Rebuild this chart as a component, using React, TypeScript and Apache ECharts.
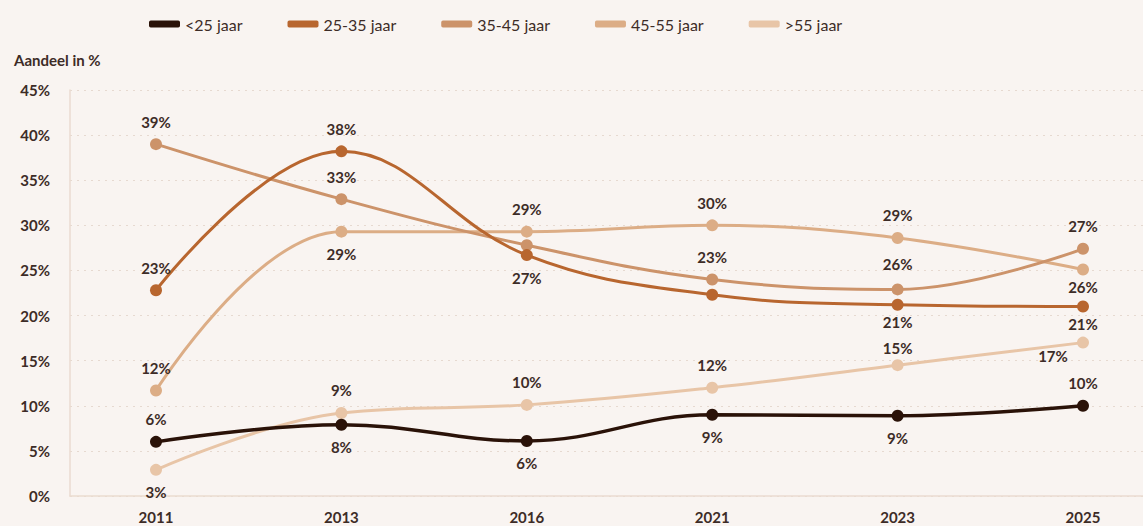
import React, { useEffect, useRef } from "react";
import * as echarts from "echarts";

const years = ["2011", "2013", "2016", "2021", "2023", "2025"];
const seriesNames = ["<25 jaar", "25-35 jaar", "35-45 jaar", "45-55 jaar", ">55 jaar"];

const under25 = [6.0, 7.9, 6.1, 9.0, 8.9, 10.0];
const age25to35 = [22.8, 38.2, 26.7, 22.3, 21.2, 21.0];
const age35to45 = [39.0, 32.9, 27.8, 24.0, 22.9, 27.4];
const age45to55 = [11.7, 29.3, 29.3, 30.0, 28.6, 25.1];
const over55 = [2.9, 9.2, 10.1, 12.0, 14.5, 17.0];

// point labels as printed in the chart (null = no label)
const under25Labels = ["6%", "8%", "6%", "9%", "9%", "10%"];
const age25to35Labels = ["23%", "38%", "27%", null, "21%", "21%"];
const age35to45Labels = ["39%", "33%", null, "23%", "26%", "27%"];
const age45to55Labels = ["12%", "29%", "29%", "30%", "29%", "26%"];
const over55Labels = ["3%", "9%", "10%", "12%", "15%", "17%"];

const yTicks = [0, 5, 10, 15, 20, 25, 30, 35, 40, 45];

// label placement per point (style)
const placements: string[][] = [
  ["top", "bottom", "bottom", "bottom", "bottom", "top"],
  ["top", "top", "bottom", "top", "bottomTight", "bottomTight"],
  ["top", "top", "top", "top", "topWide", "top"],
  ["top", "bottom", "top", "top", "top", "bottomTight"],
  ["bottom", "top", "top", "top", "topTight", "leftbottom"],
];

const colors = ["#2a1208", "#b8662f", "#cc936a", "#dcad86", "#e8c5a7"];
const textColor = "#3d2c27";
const fontFamily = "Lato, 'Open Sans', sans-serif";

function labelFor(text: string | null, pl: string): any {
  if (!text) return { show: false };
  if (pl === "leftbottom") {
    return { show: true, formatter: text, position: "bottom", distance: 10, offset: [-30, -10] };
  }
  const pos = pl.startsWith("top") ? "top" : "bottom";
  const distance = pl.endsWith("Tight") ? 4 : pl.endsWith("Wide") ? 12 : 9;
  return { show: true, formatter: text, position: pos, distance };
}

export default function App() {
  const ref = useRef<HTMLDivElement>(null);

  useEffect(() => {
    if (!ref.current) return;
    const chart = echarts.init(ref.current, null, { renderer: "svg" });
    const allValues = [under25, age25to35, age35to45, age45to55, over55];
    const allLabels = [under25Labels, age25to35Labels, age35to45Labels, age45to55Labels, over55Labels];

    const series = allValues.map((vals, si) => ({
      name: seriesNames[si],
      type: "line",
      xAxisIndex: 1,
      yAxisIndex: 1,
      smooth: 0.4,
      symbol: "circle",
      symbolSize: 12,
      z: 10 - si,
      lineStyle: { color: colors[si], width: si === 0 ? 3.5 : 3 },
      itemStyle: { color: colors[si] },
      data: vals.map((v, i) => ({ value: v, label: labelFor(allLabels[si][i], placements[si][i]) })),
      label: {
        color: textColor,
        fontFamily,
        fontWeight: "bold",
        fontSize: 15,
      },
    }));

    chart.setOption({
      animation: false,
      backgroundColor: "#f9f4f1",
      color: colors,
      title: {
        text: "Aandeel in %",
        left: 9,
        top: 47,
        textStyle: { color: textColor, fontFamily, fontWeight: "bold", fontSize: 15 },
      },
      legend: {
        left: 144,
        top: 11,
        itemWidth: 31,
        itemHeight: 7,
        itemGap: 45,
        icon: "roundRect",
        data: seriesNames,
        textStyle: { color: textColor, fontFamily, fontSize: 16 },
      },
      grid: [
        { left: 70, right: 0, top: 90, bottom: 30 },
        { left: 156, right: 60, top: 90, bottom: 30 },
      ],
      xAxis: [
        {
          type: "value",
          gridIndex: 0,
          min: 0,
          max: 1,
          axisLabel: { show: false },
          axisTick: { show: false },
          splitLine: { show: false },
          axisLine: { show: true, lineStyle: { color: "#eadbd0", width: 1.5 } },
        },
        {
          type: "category",
          gridIndex: 1,
          data: years,
          boundaryGap: false,
          axisLine: { show: false },
          axisTick: { show: false },
          axisLabel: {
            color: textColor,
            fontFamily,
            fontWeight: "bold",
            fontSize: 15,
            margin: 13,
          },
        },
      ],
      yAxis: [
        {
          type: "value",
          gridIndex: 0,
          min: yTicks[0],
          max: yTicks[yTicks.length - 1],
          interval: 5,
          axisLine: { show: true, lineStyle: { color: "#eadbd0", width: 1.5 } },
          axisTick: { show: false },
          axisLabel: {
            formatter: "{value}%",
            color: textColor,
            fontFamily,
            fontWeight: "bold",
            fontSize: 15,
            margin: 20,
          },
          splitLine: {
            show: true,
            lineStyle: { color: "#e6d9d0", type: [2, 5], width: 1.2 },
          },
        },
        {
          type: "value",
          gridIndex: 1,
          min: yTicks[0],
          max: yTicks[yTicks.length - 1],
          interval: 5,
          show: false,
          splitLine: { show: false },
        },
      ],
      series,
    });
    return () => chart.dispose();
  }, []);

  return (
    <div
      ref={ref}
      style={{ position: "fixed", left: 0, top: 0, width: 1143, height: 526 }}
    />
  );
}
